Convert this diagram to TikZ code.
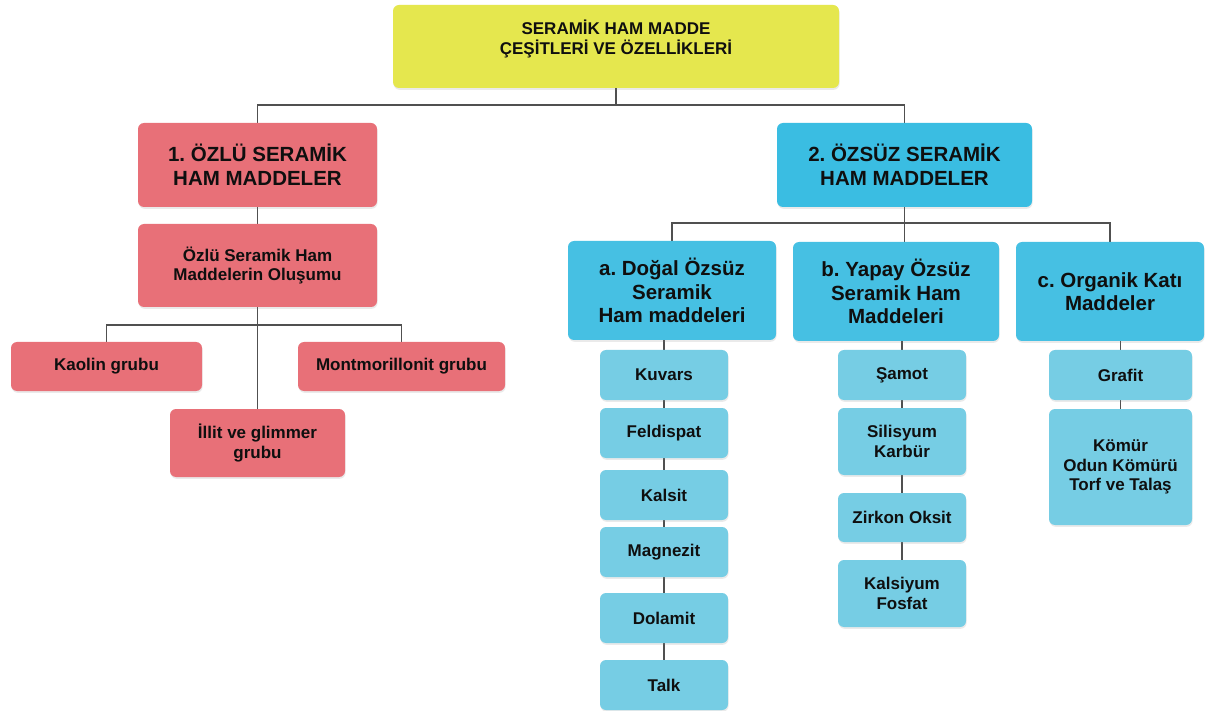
\documentclass[tikz,border=0pt]{standalone}
\usepackage{fontspec}
\setmainfont{Liberation Sans}
\usetikzlibrary{shadows}
\definecolor{ylw}{RGB}{229,231,78}
\definecolor{redf}{RGB}{232,112,120}
\definecolor{blued}{RGB}{58,189,226}
\definecolor{bluem}{RGB}{70,192,227}
\definecolor{bluel}{RGB}{118,205,228}
\definecolor{linec}{RGB}{80,80,80}
\definecolor{txt}{RGB}{15,15,15}
\pgfdeclarelayer{back}
\pgfdeclarelayer{bg}
\pgfsetlayers{back,bg,main}
\frenchspacing
\begin{document}
\begin{tikzpicture}[x=1pt,y=-1pt,
  box/.style={rounded corners=6pt, align=center, inner sep=0pt, text=txt,
    drop shadow={shadow xshift=0.6pt, shadow yshift=-1.8pt, opacity=0.16}},
  fbig/.style={font=\fontsize{20.5pt}{24pt}\selectfont\bfseries},
  fmid/.style={font=\fontsize{20.5pt}{23.5pt}\selectfont\bfseries},
  fsmall/.style={font=\fontsize{17pt}{19.5pt}\selectfont\bfseries},
  ybox/.style={box, fill=ylw},
  rbox/.style={box, fill=redf},
  bdbox/.style={box, fill=blued},
  bmbox/.style={box, fill=bluem},
  blbox/.style={box, fill=bluel, fsmall, minimum width=128pt},
  conn/.style={draw=linec, line width=1.9pt}]
\begin{pgfonlayer}{back}
\fill[white] (0,0) rectangle (1205,711);
\end{pgfonlayer}
\useasboundingbox (0,0) rectangle (1205,711);

% top
\node[ybox, minimum width=446pt, minimum height=83pt,
  label={[name=toptxt, align=center, yshift=8pt, text=txt,
          font=\fontsize{17pt}{20pt}\selectfont\bfseries]center:SERAMİK HAM MADDE\\ÇEŞİTLERİ VE ÖZELLİKLERİ}]
  (top) at (616,46.5) {};

% left branch
\node[rbox, fbig, minimum width=239pt, minimum height=84pt] (r1) at (257.5,165) {1. ÖZLÜ SERAMİK\\HAM MADDELER};
\node[rbox, fsmall, minimum width=239pt, minimum height=83pt] (r2) at (257.5,265.5) {Özlü Seramik Ham\\Maddelerin Oluşumu};
\node[rbox, fsmall, minimum width=191pt, minimum height=49pt] (kaolin) at (106.5,366.5) {Kaolin grubu};
\node[rbox, fsmall, minimum width=207pt, minimum height=49pt] (mont) at (401.5,366.5) {Montmorillonit grubu};
\node[rbox, fsmall, minimum width=175pt, minimum height=68pt] (illit) at (257.5,443) {İllit ve glimmer\\grubu};

% right branch
\node[bdbox, fbig, minimum width=255pt, minimum height=84pt] (b2) at (904.5,165) {2. ÖZSÜZ SERAMİK\\HAM MADDELER};
\node[bmbox, fmid, minimum width=208pt, minimum height=99pt] (a) at (672,290.5) {a. Doğal Özsüz\\Seramik\\Ham maddeleri};
\node[bmbox, fmid, minimum width=206pt, minimum height=99pt] (b) at (896,291.5) {b. Yapay Özsüz\\Seramik Ham\\Maddeleri};
\node[bmbox, fmid, minimum width=188pt, minimum height=99pt] (c) at (1110,291.5) {c. Organik Katı\\Maddeler};

% a column
\node[blbox, minimum height=50pt] (kuvars) at (664,375) {Kuvars};
\node[blbox, minimum height=50pt] (feld) at (664,433) {Feldispat};
\node[blbox, minimum height=50pt] (kalsit) at (664,495) {Kalsit};
\node[blbox, minimum height=50pt] (magn) at (664,552) {Magnezit};
\node[blbox, minimum height=50pt] (dola) at (664,618) {Dolamit};
\node[blbox, minimum height=50pt] (talk) at (664,685) {Talk};

% b column
\node[blbox, minimum height=50pt] (samot) at (902,375) {Şamot};
\node[blbox, minimum height=67pt] (sili) at (902,441.5) {Silisyum\\Karbür};
\node[blbox, minimum height=49pt] (zirk) at (902,517.5) {Zirkon Oksit};
\node[blbox, minimum height=67pt] (kals) at (902,593.5) {Kalsiyum\\Fosfat};

% c column
\node[blbox, minimum width=143pt, minimum height=50pt] (graf) at (1120.5,375) {Grafit};
\node[blbox, minimum width=143pt, minimum height=116pt] (komur) at (1120.5,467) {Kömür\\Odun Kömürü\\Torf ve Talaş};

% connectors
\begin{pgfonlayer}{bg}
\coordinate (j0) at (616,105);
\coordinate (j1) at (257.5,325);
\coordinate (j2) at (904.5,223);
\draw[conn] (top.south) -- (j0);
\draw[conn] (r1.north) |- (j0) -| (b2.north);
\draw[conn] (r1) -- (r2);
\draw[conn] (r2) -- (illit);
\draw[conn] (kaolin.north) |- (j1) -| (mont.north);
\draw[conn] (b2.south) -- (b2.south |- b.north);
\draw[conn] (a.north) |- (j2) -| (c.north);
\draw[conn] (kuvars.north) -- (kuvars.north |- a.south);
\draw[conn] (kuvars) -- (feld);
\draw[conn] (feld) -- (kalsit);
\draw[conn] (kalsit) -- (magn);
\draw[conn] (magn) -- (dola);
\draw[conn] (dola) -- (talk);
\draw[conn] (samot.north) -- (samot.north |- b.south);
\draw[conn] (samot) -- (sili);
\draw[conn] (sili) -- (zirk);
\draw[conn] (zirk) -- (kals);
\draw[conn] (graf.north) -- (graf.north |- c.south);
\draw[conn] (graf) -- (komur);
\end{pgfonlayer}
\end{tikzpicture}
\end{document}
